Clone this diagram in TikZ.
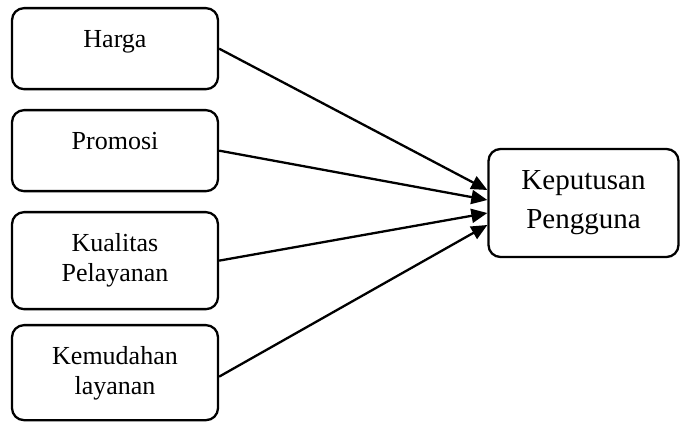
\documentclass[tikz,border=0pt]{standalone}
\usepackage{fontspec}
\setmainfont{Liberation Serif}
\usetikzlibrary{arrows.meta}

\tikzset{
  varbox/.style={draw, line width=1.15pt, rounded corners=6pt, minimum width=103pt, anchor=north, inner sep=0pt},
  vartext/.style={anchor=north, align=center, inner sep=0pt, font=\fontsize{13}{15}\selectfont},
  pointer/.style={line width=1.15pt, -{Triangle[length=8pt,width=7pt]}},
}

\begin{document}
\begin{tikzpicture}[x=0.5pt, y=-0.5pt]
  \useasboundingbox (0,0) rectangle (680,422);

  % left boxes, text sits at the top of each box
  \node[varbox, minimum height=40.5pt] (harga) at (115,7) {};
  \node[vartext] (harga-lbl) at ([yshift=-11.5pt]harga.north) {Harga};

  \node[varbox, minimum height=40.5pt] (promosi) at (115,109) {};
  \node[vartext] (promosi-lbl) at ([yshift=-11.5pt]promosi.north) {Promosi};

  \node[varbox, minimum height=48.5pt] (kualitas) at (115,211) {};
  \node[vartext] (kualitas-lbl) at ([yshift=-11pt]kualitas.north) {Kualitas\\Pelayanan};

  \node[varbox, minimum height=47.5pt] (kemudahan) at (115,324) {};
  \node[vartext] (kemudahan-lbl) at ([yshift=-11pt]kemudahan.north) {Kemudahan\\layanan};

  % right box
  \node[varbox, anchor=center, minimum width=95pt, minimum height=54pt, align=center,
        font=\fontsize{14.5}{19}\selectfont] (keputusan) at (583.5,203) {Keputusan\\[0.5pt]Pengguna};

  \coordinate (in1) at ([yshift=6.5pt]keputusan.west);
  \coordinate (in2) at ([yshift=1.5pt]keputusan.west);
  \coordinate (in3) at ([yshift=-5pt]keputusan.west);
  \coordinate (in4) at ([yshift=-11pt]keputusan.west);

  \draw[pointer] (harga.east) -- (in1);
  \draw[pointer] (promosi.east) -- (in2);
  \draw[pointer] (kualitas.east) -- (in3);
  \draw[pointer] ([yshift=-2pt]kemudahan.east) -- (in4);
\end{tikzpicture}
\end{document}
